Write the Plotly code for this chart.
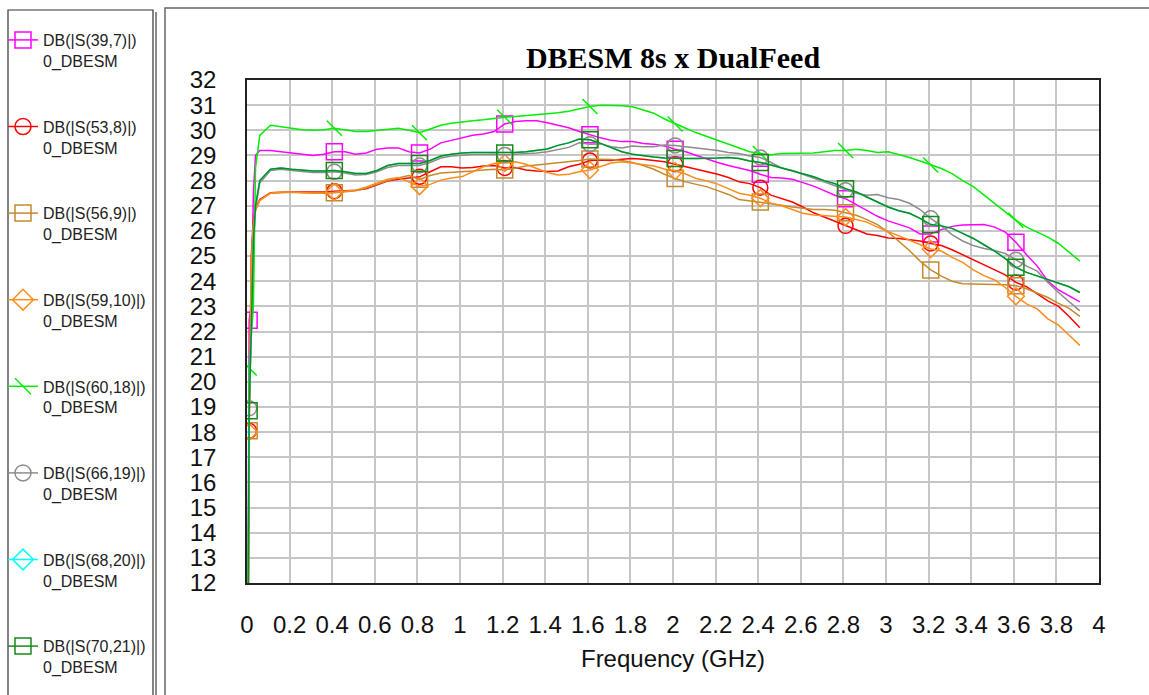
import plotly.graph_objects as go

# ---------------- data ----------------
freq_ghz = [0.0, 0.01, 0.02, 0.03, 0.04] + [round(0.06 + 0.05 * k, 2) for k in range(78)]
marker_freqs = [0.01, 0.41, 0.81, 1.21, 1.61, 2.01, 2.41, 2.81, 3.21, 3.61]

x_tick_vals = [round(0.2 * i, 1) for i in range(21)]
x_tick_text = ["0", "0.2", "0.4", "0.6", "0.8", "1", "1.2", "1.4", "1.6", "1.8", "2",
               "2.2", "2.4", "2.6", "2.8", "3", "3.2", "3.4", "3.6", "3.8", "4"]
y_tick_vals = list(range(12, 33))

s39_7 = [0.0, 22.45, 23.0, 27.5, 29.0,
         29.2, 29.2, 29.15, 29.1, 29.05, 29.0, 29.05, 29.15, 29.15, 29.05,
         29.1, 29.25, 29.3, 29.3, 29.15, 29.1, 29.25, 29.5, 29.6, 29.7,
         29.8, 29.85, 29.95, 30.25, 30.35, 30.38, 30.38, 30.3, 30.2, 30.1,
         29.95, 29.82, 29.7, 29.6, 29.55, 29.55, 29.48, 29.45, 29.38, 29.25,
         29.15, 29.0, 28.85, 28.72, 28.6, 28.5, 28.4, 28.25, 28.12, 28.1,
         28.05, 27.92, 27.78, 27.6, 27.42, 27.28, 27.05, 26.8, 26.58, 26.4,
         26.25, 26.12, 25.88, 25.88, 26.05, 26.18, 26.23, 26.25, 26.25, 26.15,
         25.95, 25.55, 25.05, 24.6, 24.0, 23.65, 23.42, 23.18]

s53_8 = [0.0, 18.05, 25.0, 26.4, 26.9,
         27.25, 27.52, 27.55, 27.56, 27.55, 27.54, 27.55, 27.58, 27.6, 27.62,
         27.68, 27.82, 27.98, 28.05, 28.1, 28.15, 28.35, 28.55, 28.55, 28.5,
         28.52, 28.58, 28.6, 28.5, 28.52, 28.42, 28.38, 28.36, 28.38, 28.55,
         28.65, 28.8, 28.82, 28.8, 28.85, 28.88, 28.85, 28.8, 28.75, 28.65,
         28.55, 28.45, 28.36, 28.25, 28.12, 27.95, 27.88, 27.72, 27.42, 27.3,
         27.15, 26.95, 26.72, 26.55, 26.38, 26.2, 26.05, 25.88, 25.82, 25.72,
         25.7, 25.66, 25.6, 25.5, 25.42, 25.25, 25.05, 24.85, 24.62, 24.45,
         24.25, 23.95, 23.78, 23.5, 23.22, 23.0, 22.6, 22.15]

s56_9 = [0.0, 18.05, 24.8, 26.3, 26.85,
         27.22, 27.5, 27.53, 27.54, 27.52, 27.5, 27.5, 27.52, 27.56, 27.6,
         27.7, 27.85, 28.0, 28.1, 28.2, 28.05, 28.2, 28.3, 28.32, 28.36,
         28.38, 28.42, 28.45, 28.42, 28.5, 28.58, 28.62, 28.66, 28.69, 28.74,
         28.8, 28.86, 28.85, 28.84, 28.8, 28.72, 28.6, 28.45, 28.25, 28.08,
         27.95, 27.85, 27.75, 27.6, 27.45, 27.25, 27.2, 27.15, 27.1, 27.02,
         26.95, 26.9, 26.85, 26.85, 26.82, 26.72, 26.62, 26.45, 26.25, 25.95,
         25.6, 25.22, 24.8, 24.45, 24.2, 24.0, 23.9, 23.88, 23.88, 23.87,
         23.86, 23.82, 23.7, 23.52, 23.35, 23.12, 22.92, 22.6]

s59_10 = [0.0, 18.0, 24.6, 26.2, 26.8,
          27.2, 27.5, 27.55, 27.55, 27.52, 27.5, 27.5, 27.55, 27.58, 27.62,
          27.75, 27.9, 28.05, 28.12, 27.95, 27.78, 27.85, 28.02, 28.1, 28.16,
          28.35, 28.55, 28.68, 28.7, 28.75, 28.65, 28.48, 28.32, 28.22, 28.25,
          28.35, 28.42, 28.56, 28.7, 28.75, 28.7, 28.64, 28.58, 28.46, 28.38,
          28.26, 28.08, 27.98, 27.86, 27.68, 27.5, 27.42, 27.3, 27.1, 27.0,
          26.85, 26.7, 26.63, 26.6, 26.57, 26.55, 26.45, 26.35, 26.15, 25.98,
          25.8, 25.62, 25.45, 25.28, 25.2, 24.95, 24.75, 24.45, 24.22, 24.05,
          23.75, 23.4, 23.1, 22.9, 22.5, 22.25, 21.85, 21.45]

s60_18 = [0.0, 20.55, 21.8, 23.0, 28.5,
          29.8, 30.2, 30.15, 30.08, 30.02, 30.0, 30.02, 30.08, 30.02, 29.95,
          29.95, 30.0, 30.05, 30.08, 30.0, 29.9, 30.05, 30.2, 30.28, 30.34,
          30.38, 30.42, 30.48, 30.52, 30.55, 30.58, 30.62, 30.66, 30.7, 30.76,
          30.85, 30.95, 31.0, 31.0, 30.98, 30.94, 30.82, 30.68, 30.45, 30.25,
          30.08, 29.9, 29.75, 29.6, 29.45, 29.3, 29.15, 29.08, 29.03, 29.08,
          29.08, 29.1, 29.1, 29.15, 29.2, 29.2, 29.25, 29.2, 29.12, 29.15,
          29.05, 28.92, 28.78, 28.62, 28.48, 28.28, 28.0, 27.76, 27.42, 27.08,
          26.75, 26.42, 26.15, 25.95, 25.75, 25.5, 25.15, 24.8]

s66_19 = [0.0, 18.95, 22.0, 25.5, 26.9,
          27.9, 28.4, 28.45, 28.4, 28.36, 28.32, 28.32, 28.35, 28.3, 28.22,
          28.24, 28.35, 28.52, 28.6, 28.6, 28.6, 28.72, 28.9, 28.98, 29.02,
          29.04, 29.04, 29.05, 29.02, 29.04, 29.06, 29.1, 29.15, 29.24, 29.32,
          29.5, 29.45, 29.46, 29.35, 29.3, 29.38, 29.35, 29.35, 29.42, 29.4,
          29.35, 29.3, 29.25, 29.2, 29.12, 29.08, 28.98, 28.92, 28.72, 28.5,
          28.4, 28.25, 28.1, 27.95, 27.8, 27.62, 27.5, 27.42, 27.45, 27.32,
          27.25, 27.1, 26.85, 26.5, 26.2, 25.85, 25.6, 25.42, 25.3, 25.22,
          25.1, 24.85, 24.6, 24.4, 23.95, 23.55, 23.2, 22.82]

s70_21 = [0.0, 18.85, 22.0, 25.6, 27.0,
          28.0, 28.45, 28.5, 28.45, 28.42, 28.38, 28.38, 28.4, 28.35, 28.28,
          28.28, 28.4, 28.6, 28.68, 28.68, 28.68, 28.8, 28.98, 29.05, 29.1,
          29.12, 29.12, 29.12, 29.1, 29.12, 29.15, 29.2, 29.26, 29.4, 29.5,
          29.65, 29.62, 29.48, 29.3, 29.15, 29.05, 28.98, 28.94, 28.9, 28.88,
          28.88, 28.88, 28.88, 28.9, 28.92, 28.88, 28.78, 28.72, 28.62, 28.5,
          28.38, 28.28, 28.15, 28.0, 27.88, 27.68, 27.55, 27.35, 27.15, 26.95,
          26.8, 26.7, 26.5, 26.25, 26.2, 26.1, 25.9, 25.7, 25.45, 25.2,
          24.9, 24.55, 24.35, 24.2, 24.05, 23.92, 23.78, 23.55]

# S(68,20) is hidden beneath S(70,21) in the source picture
s68_20 = list(s70_21)

series_names = ["DB(|S(39,7)|)", "DB(|S(53,8)|)", "DB(|S(56,9)|)", "DB(|S(59,10)|)",
                "DB(|S(60,18)|)", "DB(|S(66,19)|)", "DB(|S(68,20)|)", "DB(|S(70,21)|)"]
series_values = [s39_7, s53_8, s56_9, s59_10, s60_18, s66_19, s68_20, s70_21]
series_colors = ["#ff00ff", "#ff0000", "#c48a2a", "#ff8c1a",
                 "#00ee00", "#8c8c8c", "#00ffff", "#168a16"]
series_symbols = ["square-open", "circle-open", "square-open", "diamond-open",
                  "line-nw", "circle-open", "diamond-open", "square-open"]
series_msize = [16, 15, 16, 13, 15, 15, 13, 16]
show_plot_markers = [True, True, True, True, True, True, False, True]

# ---------------- figure ----------------
W, H = 1149, 695
L, R, T, B = 247, 50, 80, 112
pw, ph = W - L - R, H - T - B


def px_x(p):
    return (p - L) / pw


def px_y(p):
    return (H - B - p) / ph


marker_idx = [min(range(len(freq_ghz)), key=lambda i: abs(freq_ghz[i] - f)) for f in marker_freqs]

fig = go.Figure()
for name, vals, col, sym, ms, showm in zip(series_names, series_values, series_colors,
                                            series_symbols, series_msize, show_plot_markers):
    fig.add_trace(go.Scatter(x=freq_ghz, y=vals, mode="lines",
                             line=dict(color=col, width=1.5),
                             showlegend=False, hoverinfo="skip"))
    if showm:
        fig.add_trace(go.Scatter(x=[freq_ghz[i] for i in marker_idx],
                                 y=[vals[i] for i in marker_idx],
                                 mode="markers",
                                 marker=dict(symbol=sym, size=ms, color=col,
                                             line=dict(color=col, width=1.5)),
                                 showlegend=False, hoverinfo="skip"))

for k, (name, col, sym, ms) in enumerate(zip(series_names, series_colors, series_symbols, series_msize)):
    fig.add_trace(go.Scatter(x=[None], y=[None], mode="lines+markers",
                             name=name + "<br>0_DBESM", legendgroup="g%d" % k,
                             line=dict(color=col, width=1.5),
                             marker=dict(symbol=sym, size=16, color=col,
                                         line=dict(color=col, width=1.5))))

shapes = [
    # legend panel frame
    dict(type="rect", xref="paper", yref="paper",
         x0=px_x(8), x1=px_x(153), y0=px_y(720), y1=px_y(10),
         line=dict(color="#333333", width=1.2), fillcolor="rgba(0,0,0,0)"),
    dict(type="line", xref="paper", yref="paper",
         x0=px_x(156), x1=px_x(156), y0=px_y(720), y1=px_y(12),
         line=dict(color="#8a8a8a", width=2)),
    # chart panel frame
    dict(type="rect", xref="paper", yref="paper",
         x0=px_x(165), x1=px_x(1170), y0=px_y(720), y1=px_y(8),
         line=dict(color="#666666", width=1.5), fillcolor="rgba(0,0,0,0)"),
]

axis_font = dict(family="Liberation Sans, Arial", size=24, color="#111111")

fig.update_layout(
    width=W, height=H,
    margin=dict(l=L, r=R, t=T, b=B, autoexpand=False),
    paper_bgcolor="white", plot_bgcolor="white",
    title=dict(text="DBESM 8s x DualFeed",
               font=dict(family="Liberation Serif, Times New Roman", size=30,
                         color="black", weight="bold"),
               x=0.5, xref="paper", xanchor="center",
               y=1 - 57 / H, yref="container", yanchor="middle"),
    xaxis=dict(range=[0, 4], tickvals=x_tick_vals, ticktext=x_tick_text,
               showgrid=True, gridcolor="#c6c6c6", gridwidth=1.5,
               zeroline=False, showline=True, linecolor="#222222", linewidth=1.5,
               mirror=True, ticks="", tickfont=axis_font, ticklabelstandoff=19,
               title=dict(text="Frequency (GHz)", font=axis_font, standoff=14)),
    yaxis=dict(range=[12, 32], tickvals=y_tick_vals,
               showgrid=True, gridcolor="#c6c6c6", gridwidth=1.5,
               zeroline=False, showline=True, linecolor="#222222", linewidth=1.5,
               mirror=True, ticks="", tickfont=axis_font, ticklabelstandoff=24),
    legend=dict(xref="container", yref="container",
                x=3 / W, xanchor="left", y=1 - 23 / H, yanchor="top",
                font=dict(family="Liberation Sans, Arial", size=16, color="#222222"),
                bgcolor="rgba(0,0,0,0)", borderwidth=0, valign="top",
                tracegroupgap=42, itemclick=False, maxheight=690),
    shapes=shapes,
    showlegend=True,
)

fig.write_html("out.html",
               config={"displayModeBar": False},
               post_script="document.body.style.margin='0px';document.body.style.overflow='hidden';")
